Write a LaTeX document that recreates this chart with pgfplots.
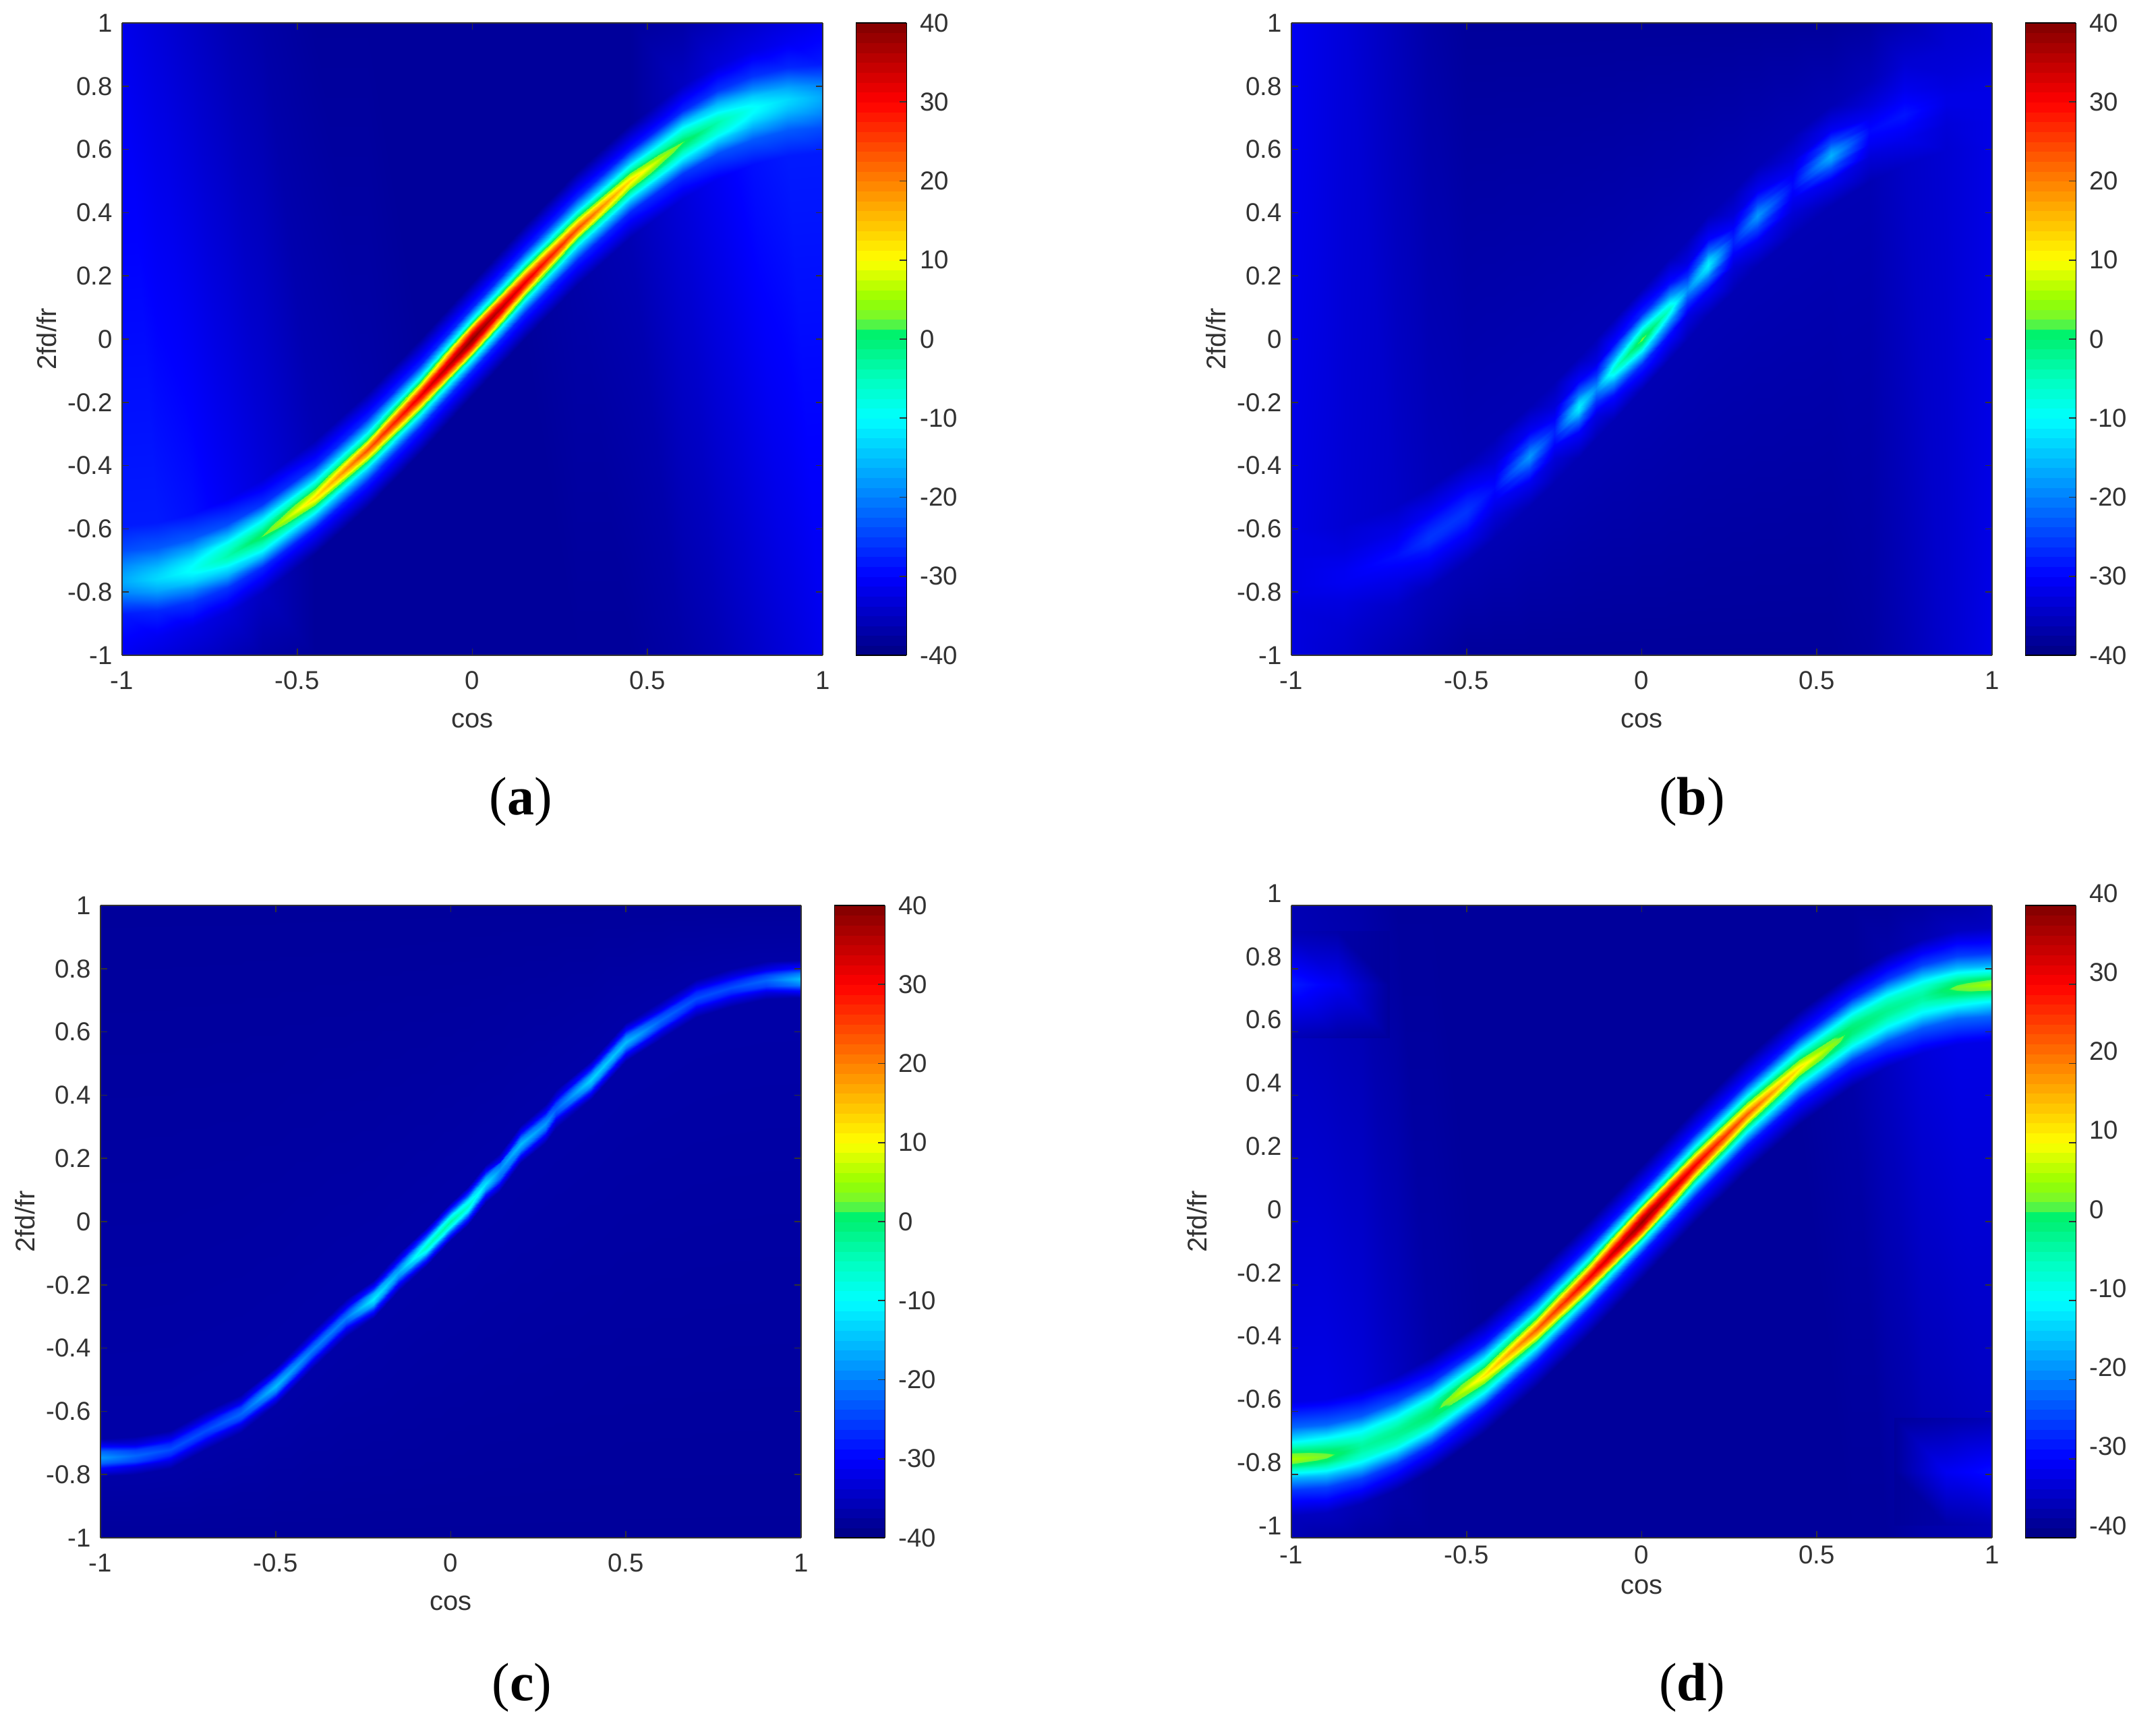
\documentclass[border=0pt]{standalone}
\usepackage{fontspec}
\setmainfont{Liberation Sans}
\newfontfamily\capfont{Liberation Serif}
\usepackage{pgfplots}
\pgfplotsset{compat=1.18}
\definecolor{inkgray}{RGB}{50,50,50}
\pgfplotsset{
  colormap={rjet}{
    rgb255(0)=(0,0,130) rgb255(20)=(0,0,255) rgb255(40)=(0,128,255) rgb255(60)=(0,255,255)
    rgb255(70)=(0,255,190) rgb255(80)=(0,240,115) rgb255(83)=(0,245,100) rgb255(84)=(110,245,60)
    rgb255(90)=(150,255,0) rgb255(100)=(255,255,0) rgb255(120)=(255,128,0) rgb255(140)=(255,0,0)
    rgb255(160)=(128,0,0)},
  panel/.style={
    scale only axis, width=259.75pt, height=234.5pt, anchor=south west,
    view={0}{90}, xmin=-1, xmax=1, ymin=-1, ymax=1,
    axis on top, axis line style={inkgray,line width=.5pt},
    tick align=inside, major tick length=2.5pt, tick style={inkgray,line width=.4pt},
    xtick={-1,-0.5,0,0.5,1}, xticklabels={-1,-0.5,0,0.5,1},
    ytick={-1,-0.8,-0.6,-0.4,-0.2,0,0.2,0.4,0.6,0.8,1},
    yticklabels={-1,-0.8,-0.6,-0.4,-0.2,0,0.2,0.4,0.6,0.8,1},
    tick label style={font=\fontsize{9.6}{11}\selectfont,text=inkgray},
    xticklabel style={yshift=-2.5pt},
    xlabel={cos}, ylabel={2fd/fr},
    label style={font=\fontsize{10}{12}\selectfont,text=inkgray},
    xlabel style={at={(axis description cs:0.5,-0.103)},anchor=center},
    ylabel style={at={(axis description cs:-0.108,0.5)},anchor=center},
    colormap name=rjet, point meta min=-40, point meta max=40,
    colorbar sampled,
    colorbar style={samples=65, scale only axis, width=18.75pt, xshift=-2.2pt,
      ytick={-40,-30,-20,-10,0,10,20,30,40}, yticklabels={-40,-30,-20,-10,0,10,20,30,40},
      tick align=inside, major tick length=2.5pt, ytick pos=right,
      yticklabel pos=right, yticklabel style={xshift=1.5pt}},
  },
  heat/.style={surf, shader=interp, mesh/cols=#1},
}
\begin{document}
\begin{tikzpicture}
\path[use as bounding box] (0pt,0pt) rectangle (790pt,643.5pt);

% (a)
\begin{axis}[panel, at={(45.25pt,400.5pt)}]
\addplot3[heat=13] coordinates {
(-1,-1,-31)(-1,-.95,-30)(-1,-.87,-28)(-1,-.83,-23)(-1,-.805,-20)(-1,-.785,-18)(-1,-.77,-17)(-1,-.755,-17)(-1,-.735,-18)(-1,-.71,-20)(-1,-.67,-24)(-1,-.59,-28)(-1,1,-31.5)
(-.9,-1,-32.5)(-.9,-.94,-31)(-.9,-.86,-27)(-.9,-.82,-21)(-.9,-.795,-17)(-.9,-.775,-14.5)(-.9,-.76,-13)(-.9,-.745,-13.5)(-.9,-.725,-15)(-.9,-.7,-18)(-.9,-.66,-23)(-.9,-.58,-28)(-.9,1,-33)
(-.8,-1,-34)(-.8,-.912,-32)(-.8,-.832,-26)(-.8,-.792,-19)(-.8,-.767,-14)(-.8,-.747,-11)(-.8,-.732,-9.5)(-.8,-.717,-10)(-.8,-.697,-12)(-.8,-.672,-16)(-.8,-.632,-23)(-.8,-.552,-29)(-.8,1,-34.5)
(-.7,-1,-35.5)(-.7,-.866,-33)(-.7,-.786,-26)(-.7,-.746,-16)(-.7,-.721,-11)(-.7,-.701,-6)(-.7,-.686,-4)(-.7,-.671,-5)(-.7,-.651,-8)(-.7,-.626,-14)(-.7,-.586,-24)(-.7,-.506,-31)(-.7,1,-36)
(-.6,-1,-37)(-.6,-.803,-35)(-.6,-.723,-27)(-.6,-.683,-14)(-.6,-.658,-7)(-.6,-.638,-2)(-.6,-.623,2)(-.6,-.608,-1)(-.6,-.588,-6)(-.6,-.563,-13)(-.6,-.523,-26)(-.6,-.443,-33)(-.6,1,-37)
(-.45,-1,-38)(-.45,-.68,-38)(-.45,-.6,-28)(-.45,-.56,-15)(-.45,-.535,-4)(-.45,-.515,7)(-.45,-.5,13)(-.45,-.485,7)(-.45,-.465,-3)(-.45,-.44,-14)(-.45,-.4,-27)(-.45,-.32,-36)(-.45,1,-38)
(-.3,-1,-38)(-.3,-.53,-38)(-.3,-.45,-27)(-.3,-.41,-13)(-.3,-.385,1)(-.3,-.365,16)(-.3,-.35,24)(-.3,-.335,16)(-.3,-.315,0)(-.3,-.29,-13)(-.3,-.25,-27)(-.3,-.17,-37)(-.3,1,-38)
(-.15,-1,-38)(-.15,-.36,-38)(-.15,-.28,-27)(-.15,-.24,-11)(-.15,-.215,8)(-.15,-.195,25)(-.15,-.18,32)(-.15,-.165,25)(-.15,-.145,8)(-.15,-.12,-11)(-.15,-.08,-27)(-.15,0,-38)(-.15,1,-38)
(0,-1,-38)(0,-.18,-38)(0,-.1,-27)(0,-.06,-8)(0,-.035,20)(0,-.015,34)(0,0,39)(0,.015,34)(0,.035,20)(0,.06,-8)(0,.1,-27)(0,.18,-38)(0,1,-38)
(.15,-1,-38)(.15,0,-38)(.15,.08,-27)(.15,.12,-11)(.15,.145,8)(.15,.165,25)(.15,.18,32)(.15,.195,25)(.15,.215,8)(.15,.24,-11)(.15,.28,-27)(.15,.36,-38)(.15,1,-38)
(.3,-1,-38)(.3,.17,-37)(.3,.25,-27)(.3,.29,-13)(.3,.315,0)(.3,.335,16)(.3,.35,24)(.3,.365,16)(.3,.385,1)(.3,.41,-13)(.3,.45,-27)(.3,.53,-38)(.3,1,-38)
(.45,-1,-38)(.45,.32,-36)(.45,.4,-27)(.45,.44,-14)(.45,.465,-3)(.45,.485,7)(.45,.5,13)(.45,.515,7)(.45,.535,-4)(.45,.56,-15)(.45,.6,-28)(.45,.68,-38)(.45,1,-38)
(.6,-1,-37)(.6,.443,-33)(.6,.523,-26)(.6,.563,-13)(.6,.588,-6)(.6,.608,-1)(.6,.623,2)(.6,.638,-2)(.6,.658,-7)(.6,.683,-14)(.6,.723,-27)(.6,.803,-35)(.6,1,-37)
(.7,-1,-36)(.7,.506,-31)(.7,.586,-24)(.7,.626,-14)(.7,.651,-8)(.7,.671,-5)(.7,.686,-4)(.7,.701,-6)(.7,.721,-11)(.7,.746,-16)(.7,.786,-26)(.7,.866,-33)(.7,1,-35.5)
(.8,-1,-34.5)(.8,.552,-29)(.8,.632,-23)(.8,.672,-16)(.8,.697,-12)(.8,.717,-10)(.8,.732,-9.5)(.8,.747,-11)(.8,.767,-14)(.8,.792,-19)(.8,.832,-26)(.8,.912,-32)(.8,1,-34)
(.9,-1,-33)(.9,.58,-28)(.9,.66,-23)(.9,.7,-18)(.9,.725,-15)(.9,.745,-13.5)(.9,.76,-13)(.9,.775,-14.5)(.9,.795,-17)(.9,.82,-21)(.9,.86,-27)(.9,.94,-31)(.9,1,-32.5)
(1,-1,-31.5)(1,.59,-28)(1,.67,-24)(1,.71,-20)(1,.735,-18)(1,.755,-17)(1,.77,-17)(1,.785,-18)(1,.805,-20)(1,.83,-23)(1,.87,-28)(1,.95,-30)(1,1,-31)
};
\end{axis}

% (b)
\begin{axis}[panel, at={(478.75pt,400.5pt)}]
\addplot3[heat=11] coordinates {
(-1,-1,-32.5)(-1,-.93,-32.5)(-1,-.85,-32.5)(-1,-.81,-32)(-1,-.785,-32)(-1,-.77,-32)(-1,-.755,-32)(-1,-.73,-32)(-1,-.69,-32)(-1,-.61,-32)(-1,1,-31)
(-.85,-1,-34)(-.85,-.91,-33.5)(-.85,-.83,-32.5)(-.85,-.79,-31.5)(-.85,-.765,-31)(-.85,-.75,-31)(-.85,-.735,-31)(-.85,-.71,-31.5)(-.85,-.67,-32.5)(-.85,-.59,-33.5)(-.85,1,-33)
(-.7,-1,-36)(-.7,-.846,-34.5)(-.7,-.766,-32)(-.7,-.726,-30.5)(-.7,-.701,-29.5)(-.7,-.686,-29)(-.7,-.671,-29.5)(-.7,-.646,-30.5)(-.7,-.606,-32)(-.7,-.526,-34.5)(-.7,1,-35.5)
(-.61,-1,-37)(-.61,-.79,-35.5)(-.61,-.71,-31)(-.61,-.67,-28.5)(-.61,-.645,-26.5)(-.61,-.63,-26)(-.61,-.615,-26.5)(-.61,-.59,-28)(-.61,-.55,-31)(-.61,-.47,-35.5)(-.61,1,-37)
(-.5,-1,-38)(-.5,-.705,-36)(-.5,-.625,-31)(-.5,-.585,-28)(-.5,-.56,-26.5)(-.5,-.545,-26)(-.5,-.53,-26.5)(-.5,-.505,-28)(-.5,-.465,-31)(-.5,-.385,-36)(-.5,1,-38)
(-.42,-1,-38)(-.42,-.632,-36)(-.42,-.552,-33)(-.42,-.512,-31)(-.42,-.487,-30)(-.42,-.472,-29.5)(-.42,-.457,-30)(-.42,-.432,-31)(-.42,-.392,-33)(-.42,-.312,-36)(-.42,1,-38)
(-.32,-1,-38)(-.32,-.531,-36)(-.32,-.451,-31)(-.32,-.411,-25)(-.32,-.386,-20)(-.32,-.371,-18)(-.32,-.356,-20)(-.32,-.331,-25)(-.32,-.291,-31)(-.32,-.211,-36)(-.32,1,-38)
(-.25,-1,-38)(-.25,-.455,-36)(-.25,-.375,-33)(-.25,-.335,-30)(-.25,-.31,-28)(-.25,-.295,-27.5)(-.25,-.28,-28)(-.25,-.255,-30)(-.25,-.215,-33)(-.25,-.135,-36)(-.25,1,-38)
(-.18,-1,-38)(-.18,-.375,-36)(-.18,-.295,-30)(-.18,-.255,-21)(-.18,-.23,-13)(-.18,-.215,-11)(-.18,-.2,-13)(-.18,-.175,-21)(-.18,-.135,-30)(-.18,-.055,-36)(-.18,1,-38)
(-.13,-1,-38)(-.13,-.316,-36)(-.13,-.236,-32)(-.13,-.196,-26)(-.13,-.171,-21)(-.13,-.156,-19)(-.13,-.141,-21)(-.13,-.116,-26)(-.13,-.076,-32)(-.13,.004,-36)(-.13,1,-38)
(-.08,-1,-38)(-.08,-.257,-36)(-.08,-.177,-29)(-.08,-.137,-18)(-.08,-.112,-10)(-.08,-.097,-6)(-.08,-.082,-10)(-.08,-.057,-18)(-.08,-.017,-29)(-.08,.063,-36)(-.08,1,-38)
(0,-1,-38)(0,-.16,-36)(0,-.08,-27)(0,-.04,-12)(0,-.015,-1)(0,0,3)(0,.015,-1)(0,.04,-12)(0,.08,-27)(0,.16,-36)(0,1,-38)
(.08,-1,-38)(.08,-.063,-36)(.08,.017,-29)(.08,.057,-18)(.08,.082,-10)(.08,.097,-6)(.08,.112,-10)(.08,.137,-18)(.08,.177,-29)(.08,.257,-36)(.08,1,-38)
(.13,-1,-38)(.13,-.004,-36)(.13,.076,-32)(.13,.116,-26)(.13,.141,-21)(.13,.156,-19)(.13,.171,-21)(.13,.196,-26)(.13,.236,-32)(.13,.316,-36)(.13,1,-38)
(.19,-1,-38)(.19,.075,-36)(.19,.155,-30)(.19,.195,-21)(.19,.22,-13)(.19,.235,-11)(.19,.25,-13)(.19,.275,-21)(.19,.315,-30)(.19,.395,-36)(.19,1,-38)
(.26,-1,-38)(.26,.15,-36)(.26,.23,-33)(.26,.27,-30)(.26,.295,-28)(.26,.31,-27.5)(.26,.325,-28)(.26,.35,-30)(.26,.39,-33)(.26,.47,-36)(.26,1,-38)
(.33,-1,-38)(.33,.23,-36)(.33,.31,-31)(.33,.35,-25)(.33,.375,-20)(.33,.39,-18)(.33,.405,-20)(.33,.43,-25)(.33,.47,-31)(.33,.55,-36)(.33,1,-38)
(.43,-1,-38)(.43,.325,-36)(.43,.405,-33)(.43,.445,-31)(.43,.47,-30)(.43,.485,-29.5)(.43,.5,-30)(.43,.525,-31)(.43,.565,-33)(.43,.645,-36)(.43,1,-38)
(.54,-1,-38)(.54,.42,-36)(.54,.5,-31)(.54,.54,-24)(.54,.565,-18)(.54,.58,-16)(.54,.595,-18)(.54,.62,-24)(.54,.66,-31)(.54,.74,-36)(.54,1,-38)
(.65,-1,-37.5)(.65,.497,-36)(.65,.577,-33)(.65,.617,-31)(.65,.642,-30)(.65,.657,-29.5)(.65,.672,-30)(.65,.697,-31)(.65,.737,-33)(.65,.817,-35.5)(.65,1,-37.5)
(.75,-1,-36)(.75,.551,-34.5)(.75,.631,-31.5)(.75,.671,-30)(.75,.696,-29)(.75,.711,-28.5)(.75,.726,-29)(.75,.751,-30)(.75,.791,-31.5)(.75,.871,-33.5)(.75,1,-36)
(.87,-1,-34)(.87,.597,-33.5)(.87,.677,-33)(.87,.717,-32.5)(.87,.742,-32)(.87,.757,-32)(.87,.772,-32)(.87,.797,-32.5)(.87,.837,-33)(.87,.917,-33.5)(.87,1,-34)
(1,-1,-32)(1,.61,-32)(1,.69,-32)(1,.73,-32)(1,.755,-32)(1,.77,-32)(1,.785,-32)(1,.81,-32)(1,.85,-32.5)(1,.93,-33)(1,1,-33)
};
\end{axis}

% (c)
\begin{axis}[panel, at={(37.25pt,73.25pt)}]
\addplot3[heat=9] coordinates {
(-1,-1,-38)(-1,-.806,-37)(-1,-.781,-30)(-1,-.764,-22)(-1,-.746,-18)(-1,-.728,-22)(-1,-.711,-30)(-1,-.686,-37)(-1,1,-38)
(-.9,-1,-38)(-.9,-.8,-37)(-.9,-.775,-32)(-.9,-.758,-25)(-.9,-.74,-22)(-.9,-.722,-25)(-.9,-.705,-32)(-.9,-.68,-37)(-.9,1,-38)
(-.8,-1,-38)(-.8,-.78,-37)(-.8,-.755,-32)(-.8,-.738,-27)(-.8,-.72,-24)(-.8,-.702,-27)(-.8,-.685,-32)(-.8,-.66,-37)(-.8,1,-38)
(-.7,-1,-38)(-.7,-.72,-37)(-.7,-.695,-32)(-.7,-.678,-27)(-.7,-.66,-24)(-.7,-.642,-27)(-.7,-.625,-32)(-.7,-.6,-37)(-.7,1,-38)
(-.6,-1,-38)(-.6,-.667,-37)(-.6,-.642,-32)(-.6,-.625,-25)(-.6,-.607,-22)(-.6,-.589,-25)(-.6,-.572,-32)(-.6,-.547,-37)(-.6,1,-38)
(-.5,-1,-38)(-.5,-.58,-37)(-.5,-.555,-29)(-.5,-.538,-20)(-.5,-.52,-15)(-.5,-.502,-20)(-.5,-.485,-29)(-.5,-.46,-37)(-.5,1,-38)
(-.4,-1,-38)(-.4,-.47,-37)(-.4,-.445,-31)(-.4,-.428,-24)(-.4,-.41,-20)(-.4,-.392,-24)(-.4,-.375,-31)(-.4,-.35,-37)(-.4,1,-38)
(-.3,-1,-38)(-.3,-.365,-37)(-.3,-.34,-31)(-.3,-.323,-24)(-.3,-.305,-20)(-.3,-.287,-24)(-.3,-.27,-31)(-.3,-.245,-37)(-.3,1,-38)
(-.22,-1,-38)(-.22,-.305,-37)(-.22,-.28,-27)(-.22,-.263,-16)(-.22,-.245,-11)(-.22,-.227,-16)(-.22,-.21,-27)(-.22,-.185,-37)(-.22,1,-38)
(-.15,-1,-38)(-.15,-.22,-37)(-.15,-.195,-29)(-.15,-.178,-20)(-.15,-.16,-16)(-.15,-.142,-20)(-.15,-.125,-29)(-.15,-.1,-37)(-.15,1,-38)
(-.07,-1,-38)(-.07,-.14,-37)(-.07,-.115,-25)(-.07,-.098,-12)(-.07,-.08,-5)(-.07,-.062,-12)(-.07,-.045,-25)(-.07,-.02,-37)(-.07,1,-38)
(0,-1,-38)(0,-.06,-37)(0,-.035,-24)(0,-.018,-10)(0,0,-3)(0,.018,-10)(0,.035,-24)(0,.06,-37)(0,1,-38)
(.05,-1,-38)(.05,-.01,-37)(.05,.015,-25)(.05,.032,-12)(.05,.05,-6)(.05,.068,-12)(.05,.085,-25)(.05,.11,-37)(.05,1,-38)
(.1,-1,-38)(.1,.06,-37)(.1,.085,-28)(.1,.102,-17)(.1,.12,-12)(.1,.138,-17)(.1,.155,-28)(.1,.18,-37)(.1,1,-38)
(.14,-1,-38)(.14,.095,-37)(.14,.12,-30)(.14,.137,-22)(.14,.165,-18)(.14,.183,-22)(.14,.19,-30)(.14,.215,-37)(.14,1,-38)
(.2,-1,-38)(.2,.185,-37)(.2,.21,-29)(.2,.227,-20)(.2,.245,-15)(.2,.263,-20)(.2,.28,-29)(.2,.305,-37)(.2,1,-38)
(.27,-1,-38)(.27,.25,-37)(.27,.275,-30)(.27,.292,-22)(.27,.31,-18)(.27,.328,-22)(.27,.345,-30)(.27,.37,-37)(.27,1,-38)
(.3,-1,-38)(.3,.295,-37)(.3,.32,-32)(.3,.337,-25)(.3,.355,-22)(.3,.373,-25)(.3,.39,-32)(.3,.415,-37)(.3,1,-38)
(.4,-1,-38)(.4,.387,-37)(.4,.412,-28)(.4,.429,-18)(.4,.447,-13)(.4,.465,-18)(.4,.482,-28)(.4,.507,-37)(.4,1,-38)
(.5,-1,-38)(.5,.508,-37)(.5,.533,-29)(.5,.55,-20)(.5,.568,-15)(.5,.586,-20)(.5,.603,-29)(.5,.628,-37)(.5,1,-38)
(.6,-1,-38)(.6,.577,-37)(.6,.602,-32)(.6,.619,-25)(.6,.637,-22)(.6,.655,-25)(.6,.672,-32)(.6,.697,-37)(.6,1,-38)
(.7,-1,-38)(.7,.646,-37)(.7,.671,-32)(.7,.688,-27)(.7,.706,-24)(.7,.724,-27)(.7,.741,-32)(.7,.766,-37)(.7,1,-38)
(.8,-1,-38)(.8,.68,-37)(.8,.705,-32)(.8,.722,-27)(.8,.74,-24)(.8,.758,-27)(.8,.775,-32)(.8,.8,-37)(.8,1,-38)
(.9,-1,-38)(.9,.703,-37)(.9,.728,-32)(.9,.745,-25)(.9,.763,-22)(.9,.781,-25)(.9,.798,-32)(.9,.823,-37)(.9,1,-38)
(1,-1,-38)(1,.707,-37)(1,.732,-29)(1,.749,-20)(1,.767,-15)(1,.785,-20)(1,.802,-29)(1,.827,-37)(1,1,-38)
};
\end{axis}

% (d), its tick labels sit higher than its ticks
\begin{axis}[panel, at={(478.75pt,73.25pt)},
  xticklabel style={yshift=3pt},
  yticklabel style={yshift=4.5pt},
  xlabel style={at={(axis description cs:0.5,-0.078)}},
  ylabel style={at={(axis description cs:-0.135,0.5)}},
  colorbar style={yticklabel style={yshift=4.5pt}}]
\addplot3[heat=13] coordinates {
(-1,-1,-36)(-1,-.93,-35)(-1,-.85,-26)(-1,-.81,-16)(-1,-.785,-6)(-1,-.765,2)(-1,-.75,6)(-1,-.735,3)(-1,-.715,-4)(-1,-.69,-12)(-1,-.65,-22)(-1,-.57,-32)(-1,1,-36)
(-.9,-1,-37)(-.9,-.921,-35)(-.9,-.841,-25)(-.9,-.801,-15)(-.9,-.776,-6)(-.9,-.756,0)(-.9,-.741,3)(-.9,-.726,1)(-.9,-.706,-4)(-.9,-.681,-11)(-.9,-.641,-22)(-.9,-.561,-32)(-.9,1,-36.5)
(-.8,-1,-37.5)(-.8,-.893,-36)(-.8,-.813,-25)(-.8,-.773,-14)(-.8,-.748,-7)(-.8,-.728,-4)(-.8,-.713,-3)(-.8,-.698,-4)(-.8,-.678,-7)(-.8,-.653,-12)(-.8,-.613,-23)(-.8,-.533,-33)(-.8,1,-37)
(-.7,-1,-38)(-.7,-.848,-37)(-.7,-.768,-26)(-.7,-.728,-13)(-.7,-.703,-6)(-.7,-.683,-3)(-.7,-.668,-2)(-.7,-.653,-3)(-.7,-.633,-6)(-.7,-.608,-12)(-.7,-.568,-24)(-.7,-.488,-35)(-.7,1,-38)
(-.6,-1,-38)(-.6,-.787,-38)(-.6,-.707,-27)(-.6,-.667,-13)(-.6,-.642,-5)(-.6,-.622,-1)(-.6,-.607,0)(-.6,-.592,-1)(-.6,-.572,-5)(-.6,-.547,-12)(-.6,-.507,-26)(-.6,-.427,-37)(-.6,1,-38)
(-.45,-1,-38)(-.45,-.667,-38)(-.45,-.587,-28)(-.45,-.547,-13)(-.45,-.522,-3)(-.45,-.502,7)(-.45,-.487,12)(-.45,-.472,7)(-.45,-.452,-3)(-.45,-.427,-13)(-.45,-.387,-28)(-.45,-.307,-38)(-.45,1,-38)
(-.3,-1,-38)(-.3,-.52,-38)(-.3,-.44,-28)(-.3,-.4,-12)(-.3,-.375,2)(-.3,-.355,15)(-.3,-.34,23)(-.3,-.325,15)(-.3,-.305,2)(-.3,-.28,-12)(-.3,-.24,-28)(-.3,-.16,-38)(-.3,1,-38)
(-.15,-1,-38)(-.15,-.355,-38)(-.15,-.275,-28)(-.15,-.235,-10)(-.15,-.21,8)(-.15,-.19,24)(-.15,-.175,31)(-.15,-.16,24)(-.15,-.14,8)(-.15,-.115,-10)(-.15,-.075,-28)(-.15,.005,-38)(-.15,1,-38)
(0,-1,-38)(0,-.18,-38)(0,-.1,-28)(0,-.06,-8)(0,-.035,19)(0,-.015,33)(0,0,38)(0,.015,33)(0,.035,19)(0,.06,-8)(0,.1,-28)(0,.18,-38)(0,1,-38)
(.15,-1,-38)(.15,-.005,-38)(.15,.075,-28)(.15,.115,-10)(.15,.14,8)(.15,.16,24)(.15,.175,31)(.15,.19,24)(.15,.21,8)(.15,.235,-10)(.15,.275,-28)(.15,.355,-38)(.15,1,-38)
(.3,-1,-38)(.3,.16,-38)(.3,.24,-28)(.3,.28,-12)(.3,.305,2)(.3,.325,15)(.3,.34,23)(.3,.355,15)(.3,.375,2)(.3,.4,-12)(.3,.44,-28)(.3,.52,-38)(.3,1,-38)
(.45,-1,-38)(.45,.307,-38)(.45,.387,-28)(.45,.427,-13)(.45,.452,-3)(.45,.472,7)(.45,.487,12)(.45,.502,7)(.45,.522,-3)(.45,.547,-13)(.45,.587,-28)(.45,.667,-38)(.45,1,-38)
(.6,-1,-38)(.6,.427,-37)(.6,.507,-26)(.6,.547,-12)(.6,.572,-5)(.6,.592,-1)(.6,.607,0)(.6,.622,-1)(.6,.642,-5)(.6,.667,-13)(.6,.707,-27)(.6,.787,-38)(.6,1,-38)
(.7,-1,-38)(.7,.488,-35)(.7,.568,-24)(.7,.608,-12)(.7,.633,-6)(.7,.653,-3)(.7,.668,-2)(.7,.683,-3)(.7,.703,-6)(.7,.728,-13)(.7,.768,-26)(.7,.848,-37)(.7,1,-38)
(.8,-1,-37)(.8,.533,-33)(.8,.613,-23)(.8,.653,-12)(.8,.678,-7)(.8,.698,-4)(.8,.713,-3)(.8,.728,-4)(.8,.748,-7)(.8,.773,-14)(.8,.813,-25)(.8,.893,-36)(.8,1,-37.5)
(.9,-1,-36.5)(.9,.561,-32)(.9,.641,-22)(.9,.681,-11)(.9,.706,-4)(.9,.726,1)(.9,.741,3)(.9,.756,0)(.9,.776,-6)(.9,.801,-15)(.9,.841,-25)(.9,.921,-35)(.9,1,-37)
(1,-1,-36)(1,.57,-32)(1,.65,-22)(1,.69,-12)(1,.715,-4)(1,.735,3)(1,.75,6)(1,.765,2)(1,.785,-6)(1,.81,-16)(1,.85,-26)(1,.93,-35)(1,1,-36)
};
\addplot3[heat=3] coordinates {
(-1,.58,-36)(-1,.75,-28)(-1,.92,-36)
(-.87,.58,-37)(-.87,.75,-31)(-.87,.92,-37)
(-.72,.58,-38)(-.72,.75,-38)(-.72,.92,-38)
};
\addplot3[heat=3] coordinates {
(.72,-.96,-38)(.72,-.79,-38)(.72,-.62,-38)
(.87,-.96,-37)(.87,-.79,-31)(.87,-.62,-37)
(1,-.96,-36)(1,-.79,-29)(1,-.62,-36)
};
\end{axis}

\node[font=\capfont\fontsize{20}{22}\selectfont] at (193pt,346.25pt) {(\textbf{a})};
\node[font=\capfont\fontsize{20}{22}\selectfont] at (627.25pt,346.25pt) {(\textbf{b})};
\node[font=\capfont\fontsize{20}{22}\selectfont] at (193.5pt,17.75pt) {(\textbf{c})};
\node[font=\capfont\fontsize{20}{22}\selectfont] at (627.25pt,17.75pt) {(\textbf{d})};
\end{tikzpicture}
\end{document}
